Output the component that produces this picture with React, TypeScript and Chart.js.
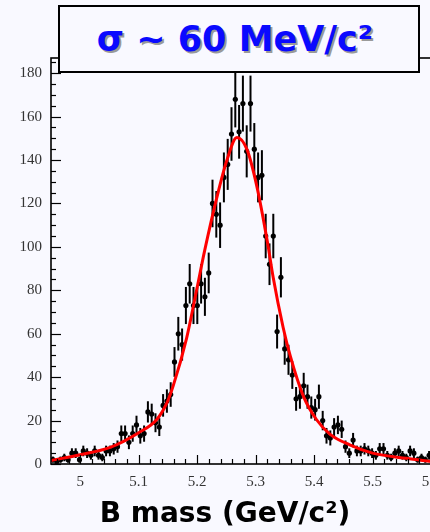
import React, { useEffect, useRef } from 'react';
import { Chart, registerables } from 'chart.js';

Chart.register(...registerables);

// Histogram definition (B mass, GeV/c²)
const HIST_MIN = 4.95;
const HIST_MAX = 5.6;
const BIN_WIDTH = 0.0065;

// Entries per bin (100 bins)
const binCounts = [
  2, 1, 2, 3, 2, 5, 5, 2, 6, 5,
  4, 6, 4, 3, 6, 6, 7, 8, 14, 14,
  10, 14, 18, 13, 14, 24, 23, 19, 17, 27,
  29, 32, 47, 60, 55, 73, 83, 73, 73, 83,
  77, 88, 120, 115, 110, 132, 138, 152, 168, 153,
  166, 144, 166, 145, 132, 133, 105, 92, 105, 61,
  86, 53, 48, 41, 30, 31, 36, 31, 26, 25,
  31, 20, 13, 12, 17, 18, 16, 8, 5, 11,
  6, 6, 7, 6, 5, 4, 7, 7, 4, 3,
  5, 6, 4, 3, 6, 5, 2, 3, 2, 4,
];

// Fit curve samples
const fitMass = [
  4.95, 5.0, 5.05, 5.1, 5.131, 5.148, 5.159, 5.182, 5.199, 5.213,
  5.233, 5.251, 5.268, 5.285, 5.302, 5.321, 5.33, 5.347, 5.359, 5.382,
  5.404, 5.427, 5.461, 5.5, 5.558, 5.6,
];
const fitValues = [
  1.6, 4.3, 7.5, 14.4, 20.5, 28, 36, 58, 80, 98.5,
  122, 140, 150.4, 145, 128, 101, 86, 63, 50, 31,
  20.5, 13.8, 8.8, 5, 2.6, 1.2,
];

const xTickValues = [5, 5.1, 5.2, 5.3, 5.4, 5.5, 5.6];
const xTickLabels = ['5', '5.1', '5.2', '5.3', '5.4', '5.5', '5.6'];
const yTickValues = [0, 20, 40, 60, 80, 100, 120, 140, 160, 180];
const yTickLabels = ['0', '20', '40', '60', '80', '100', '120', '140', '160', '180'];
const Y_MAX = 187;

const titleText = 'σ ~ 60 MeV/c²';
const xAxisTitle = 'B mass (GeV/c²)';

const BG = 'rgb(249,249,255)';

const histPlugin = {
  id: 'histDecor',
  beforeDatasetsDraw(chart: any) {
    const ctx = chart.ctx;
    const xs = chart.scales.x;
    const ys = chart.scales.y;
    const a = chart.chartArea;
    ctx.save();
    ctx.beginPath();
    ctx.rect(a.left, a.top, a.right - a.left, a.bottom - a.top);
    ctx.clip();
    ctx.strokeStyle = '#000';
    ctx.lineWidth = 2;
    binCounts.forEach((n, i) => {
      const c = HIST_MIN + (i + 0.5) * BIN_WIDTH;
      const e = Math.sqrt(n);
      const px = xs.getPixelForValue(c);
      ctx.beginPath();
      ctx.moveTo(px, ys.getPixelForValue(n - e));
      ctx.lineTo(px, ys.getPixelForValue(n + e));
      ctx.stroke();
    });
    ctx.restore();
  },
  afterDraw(chart: any) {
    const ctx = chart.ctx;
    const xs = chart.scales.x;
    const ys = chart.scales.y;
    const a = chart.chartArea;
    ctx.save();
    ctx.strokeStyle = '#000';
    ctx.lineWidth = 1.2;
    // minor / major ticks, pointing inward
    for (let k = 0; k * 5 <= Y_MAX; k++) {
      const v = k * 5;
      const py = Math.round(ys.getPixelForValue(v)) + 0.5;
      const len = v % 20 === 0 ? 10 : 5;
      ctx.beginPath();
      ctx.moveTo(a.left, py);
      ctx.lineTo(a.left + len, py);
      ctx.stroke();
    }
    for (let k = 0; ; k++) {
      const v = 4.96 + k * 0.02;
      if (v > HIST_MAX + 1e-9) break;
      const px = Math.round(xs.getPixelForValue(v)) + 0.5;
      const isMajor = Math.abs(v * 10 - Math.round(v * 10)) < 1e-6;
      const len = isMajor ? 9 : 5;
      ctx.beginPath();
      ctx.moveTo(px, a.bottom);
      ctx.lineTo(px, a.bottom - len);
      ctx.stroke();
    }
    // frame
    ctx.lineWidth = 1.6;
    ctx.strokeRect(a.left, a.top, a.right - a.left, a.bottom - a.top);
    ctx.restore();
  },
};

export default function App() {
  const canvasRef = useRef<HTMLCanvasElement | null>(null);

  useEffect(() => {
    const canvas = canvasRef.current;
    if (!canvas) return;
    const points = binCounts.map((n, i) => ({ x: HIST_MIN + (i + 0.5) * BIN_WIDTH, y: n }));
    const fit = fitMass.map((m, i) => ({ x: m, y: fitValues[i] }));
    const chart = new Chart(canvas, {
      type: 'scatter',
      data: {
        datasets: [
          {
            type: 'line',
            data: fit,
            borderColor: '#ff0000',
            borderWidth: 3,
            pointRadius: 0,
            cubicInterpolationMode: 'monotone',
            fill: false,
            order: 0,
          } as any,
          {
            type: 'scatter',
            data: points,
            pointRadius: 2.6,
            pointBackgroundColor: '#000',
            pointBorderWidth: 0,
            order: 1,
          } as any,
        ],
      },
      options: {
        responsive: false,
        animation: false,
        devicePixelRatio: 1,
        layout: { padding: { left: 0, top: 58, right: 39, bottom: 0 } },
        plugins: { legend: { display: false }, tooltip: { enabled: false } },
        scales: {
          x: {
            type: 'linear',
            min: HIST_MIN,
            max: HIST_MAX,
            grid: { display: false, drawTicks: false },
            border: { display: false },
            afterBuildTicks: (s: any) => {
              s.ticks = xTickValues.map((v) => ({ value: v }));
            },
            afterFit: (s: any) => {
              s.height = 68;
            },
            ticks: {
              padding: 9,
              color: '#333',
              font: { family: '"Liberation Serif", serif', size: 15 },
              maxRotation: 0,
              autoSkip: false,
              callback: (v: any) => {
                const i = xTickValues.findIndex((t) => Math.abs(t - Number(v)) < 1e-9);
                return i >= 0 ? xTickLabels[i] : '';
              },
            },
          },
          y: {
            type: 'linear',
            min: 0,
            max: Y_MAX,
            grid: { display: false, drawTicks: false },
            border: { display: false },
            afterBuildTicks: (s: any) => {
              s.ticks = yTickValues.map((v) => ({ value: v }));
            },
            afterFit: (s: any) => {
              s.width = 51;
            },
            ticks: {
              padding: 9,
              color: '#333',
              font: { family: '"Liberation Serif", serif', size: 15 },
              autoSkip: false,
              callback: (v: any) => {
                const i = yTickValues.indexOf(Number(v));
                return i >= 0 ? yTickLabels[i] : '';
              },
            },
          },
        },
      },
      plugins: [histPlugin],
    });
    return () => chart.destroy();
  }, []);

  return (
    <div
      style={{
        position: 'fixed',
        left: 0,
        top: 0,
        width: 430,
        height: 532,
        overflow: 'hidden',
        background: BG,
      }}
    >
      <canvas
        ref={canvasRef}
        width={470}
        height={532}
        style={{ position: 'absolute', left: 0, top: 0, width: 470, height: 532 }}
      />
      <div
        style={{
          position: 'absolute',
          left: 58,
          top: 5,
          width: 362,
          height: 68,
          boxSizing: 'border-box',
          border: '2px solid #000',
          background: BG,
          display: 'flex',
          alignItems: 'center',
          justifyContent: 'center',
          paddingRight: 8,
          fontFamily: '"DejaVu Sans", sans-serif',
          fontWeight: 'bold',
          fontSize: 35,
          color: '#0a0aff',
          textShadow: '2px 2px 0 #9a9a9a',
          whiteSpace: 'nowrap',
        }}
      >
        {titleText}
      </div>
      <div
        style={{
          position: 'absolute',
          left: 0,
          width: 450,
          top: 495,
          textAlign: 'center',
          fontFamily: '"DejaVu Sans", sans-serif',
          fontWeight: 'bold',
          fontSize: 28,
          color: '#000',
          whiteSpace: 'nowrap',
          lineHeight: '36px',
        }}
      >
        {xAxisTitle}
      </div>
    </div>
  );
}
